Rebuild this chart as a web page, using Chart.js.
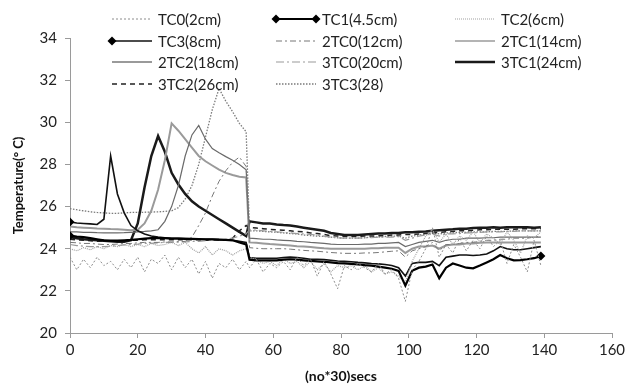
<!DOCTYPE html>
<html>
<head>
<meta charset="utf-8">
<script src="https://cdn.jsdelivr.net/npm/chart.js@4.4.1/dist/chart.umd.min.js"></script>
<style>
  html, body { margin: 0; padding: 0; background: #fff; }
  #grafico { display: block; }
</style>
</head>
<body>
<canvas id="grafico" width="634" height="389"></canvas>
<script>
// tiempo (no*30 s)
const secs = [0,2,4,6,8,10,12,14,16,18,20,22,24,26,28,30,32,34,36,38,40,42,44,46,48,50,52,
  53,55,57,59,61,63,65,67,69,71,73,75,77,79,81,83,85,87,89,91,93,95,97,99,101,103,105,107,109,
  111,113,115,117,119,121,123,125,127,129,131,133,135,137,139];

const tc0 = [23.6,23.0,23.5,23.1,23.6,23.2,23.4,23.0,23.5,23.1,23.6,22.9,23.5,23.3,23.7,23.0,23.6,23.1,23.5,22.8,23.4,22.6,23.3,23.1,23.5,23.0,23.4,
  23.1,23.5,22.9,23.3,23.1,23.4,23.0,23.6,23.2,23.5,22.7,23.4,22.8,22.1,23.2,23.0,23.3,23.1,22.9,23.3,
  22.8,23.0,22.6,21.5,23.0,23.4,24.0,25.0,23.6,24.2,23.8,24.5,23.9,24.4,24.0,24.6,24.1,24.4,23.3,24.2,
  23.6,22.9,24.4,23.2];
const tc1 = [24.62,24.58,24.55,24.5,24.45,24.4,24.38,24.38,24.4,24.42,24.45,24.48,24.5,24.5,24.5,24.48,24.48,24.47,24.46,24.45,24.45,24.44,24.43,24.42,24.4,24.3,24.2,
  23.48,23.45,23.45,23.45,23.45,23.48,23.5,23.48,23.45,23.42,23.4,23.38,23.35,23.32,23.3,23.28,23.25,23.22,23.2,23.15,
  23.1,23.05,22.95,22.25,22.95,23.1,23.15,23.25,22.6,23.1,23.3,23.2,23.1,23.07,23.2,23.35,23.5,23.7,23.55,23.45,
  23.46,23.5,23.55,23.65];
const tc2 = [24.0,23.9,24.05,23.95,24.1,24.0,24.15,24.1,24.2,24.1,24.2,24.1,24.25,24.15,24.2,24.3,24.15,24.3,24.0,23.8,24.1,23.7,24.0,23.9,23.7,23.9,24.0,
  23.6,23.5,23.3,23.4,23.2,23.5,23.3,23.4,23.1,23.4,23.0,23.3,22.9,23.2,23.1,23.2,23.0,23.2,22.9,23.1,
  22.8,22.9,22.7,22.4,23.4,24.0,24.6,24.9,24.3,24.7,24.2,24.6,24.4,24.8,24.3,24.7,24.5,24.2,24.8,24.4,
  23.8,24.6,24.5,24.8];
const tc3 = [25.27,25.22,25.2,25.18,25.15,25.4,28.4,26.6,25.7,25.1,24.85,24.7,24.6,24.55,24.52,24.5,24.5,24.48,24.48,24.47,24.45,24.45,24.43,24.42,24.4,24.35,24.3,
  23.58,23.55,23.55,23.55,23.55,23.58,23.6,23.58,23.55,23.5,23.5,23.48,23.45,23.42,23.4,23.38,23.35,23.33,23.3,23.28,
  23.25,23.2,23.1,22.7,23.3,23.35,23.35,23.4,23.2,23.6,23.65,23.7,23.7,23.68,23.7,23.75,23.9,24.1,24.0,23.95,
  23.95,24.0,24.05,24.1];
const tc2_0 = [24.3,24.28,24.25,24.25,24.22,24.2,24.2,24.22,24.25,24.25,24.28,24.3,24.3,24.3,24.32,24.32,24.33,24.35,24.55,25.1,25.7,26.5,27.2,27.7,28.1,28.35,27.9,
  24.05,24.02,24.0,24.0,24.0,24.0,23.98,23.95,23.92,23.9,23.88,23.85,23.82,23.8,23.78,23.78,23.78,23.8,23.8,23.82,
  23.85,23.88,23.9,23.6,23.9,24.0,24.1,24.3,23.9,24.2,24.2,24.25,24.3,24.3,24.35,24.4,24.4,24.45,24.45,24.5,
  24.5,24.5,24.55,24.6];
const tc2_1 = [24.8,24.8,24.78,24.78,24.76,24.75,24.75,24.75,24.76,24.78,24.8,24.82,24.85,24.9,25.3,26.0,27.0,28.4,29.4,29.85,29.2,28.75,28.55,28.37,28.2,28.0,27.75,
  24.5,24.48,24.45,24.45,24.42,24.4,24.38,24.35,24.33,24.3,24.28,24.25,24.22,24.2,24.2,24.2,24.2,24.22,24.22,24.25,
  24.25,24.28,24.3,24.1,24.2,24.3,24.35,24.4,24.3,24.4,24.45,24.45,24.5,24.5,24.5,24.52,24.52,24.55,24.55,24.55,
  24.55,24.55,24.55,24.55];
const tc2_2 = [25.05,25.02,25.0,24.98,24.96,24.95,24.93,24.92,24.9,24.88,24.9,25.2,25.8,26.8,28.2,29.95,29.6,29.2,28.8,28.4,28.15,27.95,27.75,27.6,27.5,27.42,27.38,
  24.3,24.28,24.25,24.22,24.2,24.18,24.15,24.12,24.1,24.08,24.05,24.02,24.0,24.0,24.0,24.0,24.0,24.0,24.02,24.02,
  24.05,24.05,24.05,23.8,24.0,24.1,24.1,24.15,24.0,24.15,24.2,24.2,24.25,24.25,24.28,24.3,24.3,24.3,24.3,24.3,
  24.3,24.3,24.3,24.3];
const tc3_0 = [24.2,24.15,24.12,24.1,24.1,24.1,24.12,24.15,24.18,24.2,24.22,24.25,24.25,24.28,24.3,24.3,24.32,24.32,24.35,24.35,24.38,24.4,24.42,24.45,24.5,24.6,24.7,
  24.9,24.88,24.85,24.82,24.8,24.78,24.75,24.72,24.7,24.68,24.65,24.6,24.55,24.52,24.5,24.5,24.5,24.52,24.52,24.55,
  24.55,24.55,24.58,24.4,24.5,24.6,24.65,24.7,24.6,24.7,24.7,24.72,24.75,24.75,24.78,24.8,24.8,24.8,24.82,24.82,
  24.85,24.85,24.85,24.85];
const tc3_1 = [24.55,24.5,24.45,24.42,24.4,24.38,24.35,24.33,24.33,24.4,25.2,26.9,28.4,29.35,28.6,27.6,27.05,26.6,26.25,26.0,25.8,25.6,25.4,25.2,25.0,24.8,24.6,
  25.3,25.25,25.2,25.2,25.15,25.12,25.1,25.05,25.0,24.95,24.9,24.85,24.75,24.7,24.65,24.65,24.65,24.68,24.7,24.72,
  24.72,24.75,24.75,24.78,24.78,24.8,24.82,24.85,24.88,24.9,24.92,24.95,24.95,24.98,25.0,25.0,25.02,25.0,25.02,25.02,
  25.02,25.02,25.0,25.02];
const tc3_2 = [24.45,24.42,24.4,24.38,24.35,24.35,24.35,24.35,24.38,24.4,24.4,24.42,24.42,24.42,24.42,24.42,24.42,24.42,24.42,24.42,24.4,24.4,24.4,24.4,24.5,24.85,25.1,
  25.0,24.98,24.95,24.92,24.9,24.88,24.85,24.82,24.8,24.75,24.72,24.68,24.62,24.6,24.58,24.58,24.58,24.6,24.6,24.62,
  24.62,24.65,24.65,24.68,24.68,24.7,24.72,24.75,24.78,24.8,24.82,24.85,24.85,24.88,24.9,24.9,24.92,24.92,24.92,24.92,
  24.95,24.95,24.95,24.95];
const tc3_3 = [25.9,25.85,25.8,25.75,25.72,25.7,25.68,25.68,25.7,25.72,25.72,25.73,25.74,25.75,25.77,25.8,25.95,26.35,27.0,28.0,29.3,30.6,31.6,31.0,30.5,29.95,29.55,
  24.85,24.85,24.82,24.8,24.78,24.75,24.72,24.7,24.65,24.62,24.6,24.58,24.55,24.52,24.5,24.5,24.5,24.52,24.55,24.55,
  24.58,24.6,24.6,24.5,24.6,24.65,24.7,24.75,24.7,24.75,24.75,24.78,24.78,24.8,24.8,24.8,24.82,24.82,24.82,24.85,
  24.85,24.85,24.85,24.85];

const etiquetas = ['TC0(2cm)', 'TC1(4.5cm)', 'TC2(6cm)', 'TC3(8cm)', '2TC0(12cm)', '2TC1(14cm)',
  '2TC2(18cm)', '3TC0(20cm)', '3TC1(24cm)', '3TC2(26cm)', '3TC3(28)'];
const yTicks = [20, 22, 24, 26, 28, 30, 32, 34];
const xTicks = [0, 20, 40, 60, 80, 100, 120, 140, 160];

const FUENTE = 'Lato, "Liberation Sans", sans-serif';

function puntos(valores) {
  return secs.map((s, i) => ({ x: s, y: valores[i] }));
}

function marcas(n, inicio, fin) {
  return secs.map((s, i) => (i === 0 && inicio) || (i === secs.length - 1 && fin) ? n : 0);
}

const estilos = [
  { data: tc0, color: '#8c8c8c', width: 1, dash: [2, 2] },
  { data: tc1, color: '#000000', width: 2.2, dash: [], ini: true, fin: true },
  { data: tc2, color: '#a0a0a0', width: 1.2, dash: [1, 1] },
  { data: tc3, color: '#111111', width: 1.6, dash: [], ini: true },
  { data: tc2_0, color: '#777777', width: 1, dash: [6, 3, 2, 3] },
  { data: tc2_1, color: '#6a6a6a', width: 1.2, dash: [] },
  { data: tc2_2, color: '#9a9a9a', width: 2, dash: [] },
  { data: tc3_0, color: '#9a9a9a', width: 1.2, dash: [8, 3, 2, 3] },
  { data: tc3_1, color: '#1a1a1a', width: 2.5, dash: [] },
  { data: tc3_2, color: '#222222', width: 1.5, dash: [5, 4] },
  { data: tc3_3, color: '#7a7a7a', width: 1.3, dash: [1.5, 1.5] }
];

const datasets = estilos.map((e, i) => ({
  label: etiquetas[i],
  data: puntos(e.data),
  borderColor: e.color,
  backgroundColor: '#000',
  borderWidth: e.width,
  borderDash: e.dash,
  pointStyle: 'rectRot',
  pointRadius: marcas(4.5, e.ini, e.fin),
  pointBorderWidth: 0,
  pointHoverRadius: 0,
  tension: 0,
  fill: false
}));

// leyenda en 3 columnas dentro del área de la gráfica
const legendCols = [112, 276, 455];
const legendRows = [19, 41, 62, 84];

const leyenda = {
  id: 'leyenda',
  afterDraw(chart) {
    const ctx = chart.ctx;
    chart.data.datasets.forEach((ds, i) => {
      const x0 = legendCols[i % 3];
      const y = legendRows[Math.floor(i / 3)];
      const largo = 40;
      ctx.save();
      ctx.strokeStyle = ds.borderColor;
      ctx.lineWidth = ds.borderWidth;
      ctx.setLineDash(ds.borderDash);
      ctx.beginPath();
      ctx.moveTo(x0, y);
      ctx.lineTo(x0 + largo, y);
      ctx.stroke();
      ctx.setLineDash([]);
      const e = estilos[i];
      ctx.fillStyle = '#000';
      [e.ini ? x0 : null, e.fin ? x0 + largo : null].forEach(px => {
        if (px === null) return;
        ctx.beginPath();
        ctx.moveTo(px, y - 4.5);
        ctx.lineTo(px + 4.5, y);
        ctx.lineTo(px, y + 4.5);
        ctx.lineTo(px - 4.5, y);
        ctx.closePath();
        ctx.fill();
      });
      ctx.fillStyle = '#222';
      ctx.font = '15px ' + FUENTE;
      ctx.textBaseline = 'middle';
      ctx.fillText(ds.label, x0 + 46, y + 1);
      ctx.restore();
    });
  }
};

window.onload = function () {
  const ctx = document.getElementById('grafico').getContext('2d');
  new Chart(ctx, {
    type: 'line',
    data: { datasets: datasets },
    plugins: [leyenda],
    options: {
      responsive: false,
      animation: false,
      devicePixelRatio: 1,
      layout: { padding: { top: 38, right: 22, left: 0, bottom: 0 } },
      plugins: {
        legend: { display: false },
        tooltip: { enabled: false }
      },
      scales: {
        x: {
          type: 'linear',
          min: 0,
          max: 160,
          afterBuildTicks: axis => { axis.ticks = xTicks.map(v => ({ value: v })); },
          afterFit: axis => { axis.height = 56; },
          grid: { display: true, drawOnChartArea: false, drawTicks: true, tickLength: 5, color: '#9a9a9a' },
          border: { display: true, color: '#9a9a9a', width: 1 },
          ticks: { color: '#222', font: { family: FUENTE, size: 15 }, padding: 3, maxRotation: 0 },
          title: {
            display: true,
            text: '(no*30)secs',
            color: '#111',
            font: { family: FUENTE, size: 14, weight: 'bold' },
            padding: { top: 8, bottom: 4 }
          }
        },
        y: {
          min: 20,
          max: 34,
          afterBuildTicks: axis => { axis.ticks = yTicks.map(v => ({ value: v })); },
          afterFit: axis => { axis.width = 70; },
          grid: { display: true, drawOnChartArea: false, drawTicks: true, tickLength: 5, color: '#9a9a9a' },
          border: { display: true, color: '#9a9a9a', width: 1 },
          ticks: { color: '#222', font: { family: FUENTE, size: 15 }, padding: 8 },
          title: {
            display: true,
            text: 'Temperature(° C)',
            color: '#111',
            font: { family: FUENTE, size: 13, weight: 'bold' },
            padding: { top: 11, bottom: 4 }
          }
        }
      }
    }
  });
};
</script>
</body>
</html>
